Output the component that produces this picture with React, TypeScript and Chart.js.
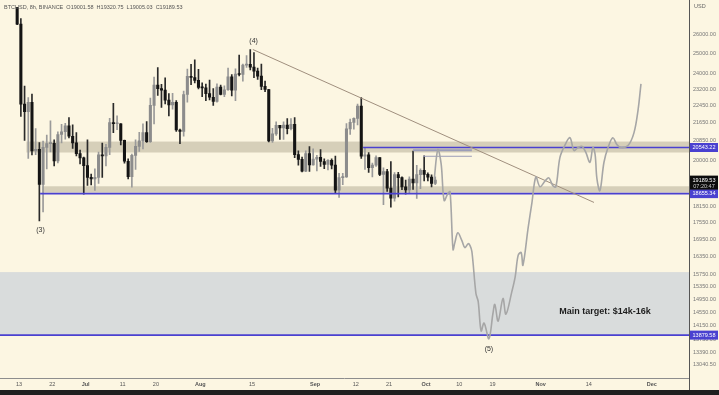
import React, { useEffect, useRef } from "react";
import { Chart, registerables } from "chart.js";
Chart.register(...registerables);

// Day index: 0 = Jun 13 ; first candle = Jun 12 (day -1)
const startDay = -1;
const opens = [
  // Jun 12-30
  28400, 26590, 22490, 22140, 22580, 20400, 20470, 19020, 20550, 20710, 20720, 19970, 21110, 21230, 21500, 21030, 20740, 20280, 20100,
  // Jul
  19780, 19300, 19240, 19300, 20230, 20190, 20550, 21640, 21590, 21590, 20850, 19960, 19330, 20210, 20590, 20830, 21190, 20790, 22430, 23400, 23230, 23160, 22680, 22460, 22580, 21310, 21250, 22950, 23840, 23780, 23640,
  // Aug
  23290, 23270, 22990, 22820, 22620, 23310, 22950, 23180, 23810, 23160, 23950, 23930, 24400, 24440, 24300, 24100, 23850, 23340, 23190, 20830, 21140, 21520, 21400, 21530, 21370, 21560, 20240, 20040, 19550, 20280, 19810,
  // Sep
  20050, 20130, 19950, 19830, 20000, 19800, 18790, 19290, 19320, 21360, 21650, 21830, 22400, 20170, 20230, 19700, 19800, 20110, 19420, 19540, 18870, 18480, 19410, 19290, 18920, 18800, 19230, 19080, 19410, 19590,
  // Oct
  19420, 19310, 19060,
];
const highs = [
  28550, 26890, 23360, 22800, 22970, 21370, 20760, 20820, 21080, 21720, 20870, 21230, 21560, 21610, 21870, 21540, 21190, 20430, 20140,
  20870, 19430, 19650, 20350, 20730, 20680, 21840, 22530, 21950, 21600, 20860, 20060, 20260, 20880, 21200, 21580, 21690, 22780, 23800, 24280, 23440, 23760, 22990, 23010, 22660, 21350, 23110, 24200, 24440, 24670, 24190,
  23510, 23460, 23650, 23230, 23470, 23400, 23370, 24250, 23930, 24220, 24920, 24460, 24900, 25210, 25050, 24250, 24450, 23600, 23200, 21380, 21680, 21520, 21680, 21820, 21820, 21870, 20400, 20140, 20400, 20580, 20490,
  20210, 20450, 20060, 20030, 20060, 20180, 19460, 19460, 21600, 21800, 21860, 22490, 22800, 20550, 20330, 19890, 20190, 20110, 19690, 19630, 19950, 19490, 19500, 19320, 19190, 19320, 20390, 19790, 19650, 20190,
  19480, 19400, 19320.75,
];
const lows = [
  26560, 21925, 20850, 20080, 20230, 20240, 17620, 17960, 19640, 20350, 19770, 19890, 20740, 20900, 20960, 20500, 20190, 19850, 18630,
  18980, 19000, 18780, 19060, 19300, 19770, 20240, 21190, 21320, 20650, 19880, 19240, 18910, 19620, 20380, 20480, 20760, 20760, 21580, 22910, 22340, 22500, 21950, 22260, 21250, 20710, 21040, 22580, 23420, 23510, 23220,
  22850, 22650, 22690, 22430, 22590, 22930, 22840, 23150, 22880, 22660, 23860, 23600, 24290, 24160, 23770, 23680, 23180, 23080, 20780, 20760, 21070, 20890, 20890, 21140, 21310, 20110, 19800, 19520, 19530, 19540, 19800,
  19560, 19750, 19650, 19600, 19640, 18680, 18510, 19010, 19300, 21110, 21350, 21540, 20080, 19620, 19500, 19320, 19750, 19370, 18230, 18740, 18130, 18360, 18530, 18810, 18630, 18680, 18820, 18470, 18850, 19160,
  19160, 18920, 19005.03,
];
const closes = [
  26590, 22490, 22140, 22580, 20400, 20470, 19020, 20550, 20710, 20720, 19970, 21110, 21230, 21500, 21030, 20740, 20280, 20100, 19780,
  19300, 19240, 19300, 20230, 20190, 20550, 21640, 21590, 21590, 20850, 19960, 19330, 20210, 20590, 20830, 21190, 20790, 22430, 23400, 23230, 23160, 22680, 22460, 22580, 21310, 21250, 22950, 23840, 23780, 23640, 23290,
  23270, 22990, 22820, 22620, 23310, 22950, 23180, 23810, 23160, 23950, 23930, 24400, 24440, 24300, 24100, 23850, 23340, 23190, 20830, 21140, 21520, 21400, 21530, 21370, 21560, 20240, 20040, 19550, 20280, 19810, 20050,
  20130, 19950, 19830, 20000, 19800, 18790, 19290, 19320, 21360, 21650, 21830, 22400, 20170, 20230, 19700, 19800, 20110, 19420, 19540, 18870, 18480, 19410, 19290, 18920, 18800, 19230, 19080, 19410, 19590, 19420,
  19310, 19060, 19189.53,
];

// Projected path (grey)
const projDays = [112.2, 113.2, 114.1, 114.9, 115.9, 116.5, 117.3, 117.8, 118.6, 119.7, 120.5, 121.4, 121.9, 122.4, 123.5, 124.1, 124.9, 125.7, 127.0, 128.1, 128.6, 129.5, 130.8, 131.6, 133.2, 134.1, 134.9, 135.7, 136.2, 137.6, 138.6, 139.7, 140.8, 142.2, 143.2, 144.3, 145.1, 146.2, 147.6, 148.9, 150.0, 151.1, 152.2, 153.2, 154.3, 155.1, 155.7, 156.2, 157.0, 158.1, 159.2, 160.5, 161.6, 162.7, 164.6, 166.2, 167.3, 168.1];
const projValues = [19198, 20457, 19838, 18390, 18655, 18731, 16598, 16840, 17189, 16908, 16666, 16804, 16736, 16531, 15137, 14891, 14001, 14233, 13775, 14529, 14799, 14293, 14984, 14500, 15200, 15675, 16396, 16497, 16063, 17365, 18278, 19318, 18925, 19159, 19277, 18964, 18925, 20124, 20667, 20966, 20415, 20540, 20584, 20332, 19919, 20540, 20249, 19237, 18770, 19919, 20540, 20966, 20667, 20540, 20626, 21182, 22204, 23468];

// Trend line
const trendDays = [63.2, 155.4];
const trendValues = [25213, 18315];

// Key levels (blue lines)
const levelValues = [20543.22, 18655.34, 13879.58];
const levelStartDays = [93, 5.7, -5.2];
const levelLabels = ["20543.22", "18655.34", "13879.58"];

// Zones
const zoneLows = [20330, 18694, 13879.58];
const zoneHighs = [20800, 18944, 15834];
const zoneStartDays = [2.0, 6.2, -5.2];

// Short grey lines
const shortFrom = [106.5, 109.2];
const shortTo = [122.4, 122.4];
const shortValues = [20430, 20170];

// Wave labels
const waveLabels = ["(3)", "(4)", "(5)"];
const waveDays = [5.8, 63.4, 127.0];
const waveValues = [17620, 25213, 13775];

const targetText = "Main target: $14k-16k";
const targetDay = 146.0;
const targetValue = 14595;

const lastPrice = 19189.53;
const lastPriceLabel = "19189.53";
const countdownLabel = "07:20:47";
const headerText = "BTCUSD, 8h, BINANCE  O19001.58  H19320.75  L19005.03  C19189.53";

const xTickDays = [0, 9, 18, 28, 37, 49, 63, 80, 91, 100, 110, 119, 128, 141, 154, 171];
const xTickLabels = ["13", "22", "Jul", "11", "20", "Aug", "15", "Sep", "12", "21", "Oct", "10", "19", "Nov", "14", "Dec"];
const monthLabels = ["Jul", "Aug", "Sep", "Oct", "Nov", "Dec"];

const yTicks = [26000, 25000, 24000, 23200, 22450, 21650, 20850, 20000, 18150, 17550, 16950, 16350, 15750, 15350, 14950, 14550, 14150, 13750, 13390, 13040.5];

const X_MIN = -5.14;
const X_MAX = 181.08;
const Y_MIN = 12690;
const Y_MAX = 27537;

const BG = "#fcf6e2";
const FONT = "'Liberation Sans', Arial, sans-serif";
const BLUE = "#4a41d0";
const BAND = "#d6cfb9";
const TARGET = "#d9dcdc";
const UP = "#8c8c8c";
const DOWN = "#141414";

export default function App() {
  const ref = useRef<HTMLCanvasElement | null>(null);

  useEffect(() => {
    const canvas = ref.current;
    if (!canvas) return;
    const dayOf = (i: number) => startDay + i + 0.5;
    const bodies = opens.map((o, i) => ({ x: dayOf(i), y: [Math.min(o, closes[i]), Math.max(o, closes[i])] }));
    const wicks = opens.map((o, i) => ({ x: dayOf(i), y: [lows[i], highs[i]] }));
    const bodyColors = opens.map((o, i) => (closes[i] >= o ? UP : DOWN));
    const wickColors = opens.map((o, i) => (closes[i] >= o ? "#9a9a9a" : "#2a2a2a"));

    const lineDs = (data: any[], color: string, width: number, extra: any = {}) => ({
      type: "line" as const,
      data,
      borderColor: color,
      borderWidth: width,
      pointRadius: 0,
      fill: false,
      order: 1,
      ...extra,
    });

    const levelDatasets = levelValues.map((v, i) =>
      lineDs([{ x: levelStartDays[i], y: v }, { x: X_MAX + 1, y: v }], BLUE, 1.6)
    );
    const shortDatasets = shortValues.map((v, i) =>
      lineDs([{ x: shortFrom[i], y: v }, { x: shortTo[i], y: v }], "#9b9db8", i === 0 ? 2 : 1)
    );

    const plugin = {
      id: "decor",
      beforeDraw(chart: any) {
        const { ctx, width, height } = chart;
        ctx.save();
        ctx.fillStyle = BG;
        ctx.fillRect(0, 0, width, height);
        ctx.restore();
      },
      beforeDatasetsDraw(chart: any) {
        const { ctx, chartArea, scales } = chart;
        const x = scales.x, y = scales.y;
        ctx.save();
        ctx.beginPath();
        ctx.rect(chartArea.left, chartArea.top, chartArea.right - chartArea.left, chartArea.bottom - chartArea.top);
        ctx.clip();
        zoneLows.forEach((lo, i) => {
          const px0 = Math.max(x.getPixelForValue(zoneStartDays[i]), chartArea.left);
          const yt = y.getPixelForValue(zoneHighs[i]);
          const yb = y.getPixelForValue(lo);
          ctx.fillStyle = i === 2 ? TARGET : BAND;
          ctx.fillRect(px0, yt, chartArea.right - px0, yb - yt);
        });
        ctx.restore();
      },
      afterDraw(chart: any) {
        const { ctx, chartArea, scales, width, height } = chart;
        const x = scales.x, y = scales.y;
        ctx.save();
        // header
        ctx.fillStyle = "#555";
        ctx.font = `5.5px ${FONT}`;
        ctx.textBaseline = "middle";
        ctx.textAlign = "left";
        ctx.fillText(headerText, 4, 7);
        // wave labels
        ctx.fillStyle = "#333";
        ctx.font = `7px ${FONT}`;
        ctx.textAlign = "center";
        const offs = [9, -8, 10];
        waveLabels.forEach((t, i) => {
          ctx.fillText(t, x.getPixelForValue(waveDays[i]), y.getPixelForValue(waveValues[i]) + offs[i]);
        });
        // target text
        ctx.fillStyle = "#1e1e1e";
        ctx.font = `bold 9px ${FONT}`;
        ctx.textAlign = "left";
        ctx.fillText(targetText, x.getPixelForValue(targetDay), y.getPixelForValue(targetValue));
        // axes lines
        ctx.strokeStyle = "#8d8d8d";
        ctx.lineWidth = 1;
        ctx.beginPath();
        ctx.moveTo(0, chartArea.bottom + 0.5);
        ctx.lineTo(chartArea.right, chartArea.bottom + 0.5);
        ctx.stroke();
        ctx.strokeStyle = "#555";
        ctx.beginPath();
        ctx.moveTo(chartArea.right + 0.5, 0);
        ctx.lineTo(chartArea.right + 0.5, height - 5);
        ctx.stroke();
        // USD
        ctx.fillStyle = "#666";
        ctx.font = `5.5px ${FONT}`;
        ctx.fillText("USD", chartArea.right + 5, 6);
        // level boxes
        ctx.textAlign = "center";
        levelValues.forEach((v, i) => {
          const py = y.getPixelForValue(v);
          ctx.fillStyle = BLUE;
          ctx.fillRect(chartArea.right + 1, py - 4.5, width - chartArea.right - 2, 9);
          ctx.fillStyle = "#fff";
          ctx.fillText(levelLabels[i], chartArea.right + 15, py);
        });
        // last price box
        const pl = y.getPixelForValue(lastPrice);
        ctx.fillStyle = "#0c0c0c";
        ctx.fillRect(chartArea.right + 1, pl - 4.5, width - chartArea.right - 2, 14);
        ctx.fillStyle = "#fff";
        ctx.fillText(lastPriceLabel, chartArea.right + 15, pl);
        ctx.fillStyle = "#ccc";
        ctx.fillText(countdownLabel, chartArea.right + 15, pl + 6);
        // bottom dark strip
        ctx.fillStyle = "#1f1f1f";
        ctx.fillRect(0, height - 5, width, 5);
        ctx.restore();
      },
    };

    const chart = new Chart(canvas, {
      type: "bar",
      data: {
        datasets: [
          lineDs(projDays.map((d, i) => ({ x: d, y: projValues[i] })), "#a6a6a6", 1.6, { tension: 0.35 }),
          lineDs(trendDays.map((d, i) => ({ x: d, y: trendValues[i] })), "#a08f7e", 1),
          ...levelDatasets,
          ...shortDatasets,
          {
            type: "bar" as const,
            data: bodies as any,
            backgroundColor: bodyColors,
            barThickness: 2.4,
            minBarLength: 1,
            grouped: false,
            order: 2,
          },
          {
            type: "bar" as const,
            data: wicks as any,
            backgroundColor: wickColors,
            barThickness: 1,
            grouped: false,
            order: 3,
          },
        ] as any,
      },
      options: {
        responsive: false,
        devicePixelRatio: 1,
        animation: false,
        layout: { padding: 0 },
        plugins: { legend: { display: false }, tooltip: { enabled: false } },
        scales: {
          x: {
            type: "linear",
            min: X_MIN,
            max: X_MAX,
            offset: false,
            grid: { display: false, drawTicks: false },
            border: { display: false },
            afterBuildTicks: (axis: any) => {
              axis.ticks = xTickDays.map((v) => ({ value: v }));
            },
            afterFit: (axis: any) => {
              axis.height = 17;
            },
            ticks: {
              autoSkip: false,
              maxRotation: 0,
              minRotation: 0,
              padding: 3,
              color: "#555",
              font: (ctx: any) => ({
                size: 5.5,
                family: FONT,
                weight: monthLabels.includes(xTickLabels[ctx.index]) ? "bold" : "normal",
              }),
              callback: (value: any) => {
                const k = xTickDays.indexOf(Number(value));
                return k >= 0 ? xTickLabels[k] : "";
              },
            },
          },
          y: {
            type: "logarithmic",
            position: "right",
            min: Y_MIN,
            max: Y_MAX,
            bounds: "data",
            grid: { display: false, drawTicks: false },
            border: { display: false },
            afterBuildTicks: (axis: any) => {
              axis.ticks = yTicks.map((v) => ({ value: v }));
            },
            afterFit: (axis: any) => {
              axis.width = 30;
            },
            ticks: {
              autoSkip: false,
              padding: 4,
              color: "#777",
              font: { size: 5.5, family: FONT },
              callback: (value: any) => Number(value).toFixed(2),
            },
          },
        },
      } as any,
      plugins: [plugin],
    });
    return () => chart.destroy();
  }, []);

  return (
    <div style={{ position: "fixed", left: 0, top: 0, width: 719, height: 395, background: BG }}>
      <canvas ref={ref} width={719} height={395} style={{ display: "block", width: 719, height: 395 }} />
    </div>
  );
}
